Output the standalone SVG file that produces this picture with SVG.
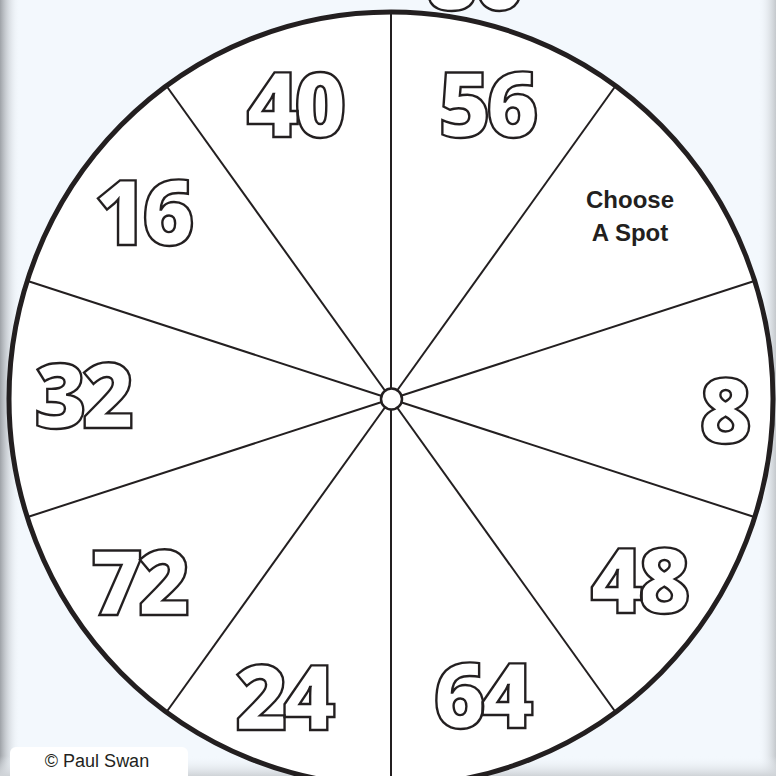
<svg xmlns="http://www.w3.org/2000/svg" width="776" height="776" viewBox="0 0 776 776">
<defs>
<linearGradient id="lg" x1="0" y1="0" x2="1" y2="0">
<stop offset="0" stop-color="#9ea2a7"/><stop offset="1" stop-color="#f3f8fd" stop-opacity="0"/>
</linearGradient>
<linearGradient id="rg" x1="1" y1="0" x2="0" y2="0">
<stop offset="0" stop-color="#c4c8cc"/><stop offset="1" stop-color="#f3f8fd" stop-opacity="0"/>
</linearGradient>
<linearGradient id="bg" x1="0" y1="1" x2="0" y2="0">
<stop offset="0" stop-color="#cfd3d7"/><stop offset="1" stop-color="#f3f8fd" stop-opacity="0"/>
</linearGradient>
<style>
.num{font-family:"Open Sans","Lato",sans-serif;font-weight:800;font-size:90px;fill:#fff;stroke:#231f20;stroke-width:2.4;text-anchor:middle;letter-spacing:-5px}
.spoke{stroke:#231f20;stroke-width:2;fill:none}
.lbl{font-family:"Liberation Sans",Arial,sans-serif;font-weight:700;font-size:24px;fill:#231f20;text-anchor:middle}
</style>
</defs>
<rect width="776" height="776" fill="#f3f8fd"/>
<rect x="0" y="0" width="20" height="776" fill="url(#lg)"/>
<rect x="758" y="0" width="18" height="776" fill="url(#rg)"/>
<rect x="0" y="756" width="776" height="20" fill="url(#bg)"/>
<g id="top-partial"><text class="num" x="473" y="10">80</text></g>
<g id="wheel">
<ellipse cx="391" cy="399" rx="382" ry="387" fill="#fff" stroke="#231f20" stroke-width="5"/>
</g>
<g id="connectors">
<line class="spoke" x1="391" y1="399" x2="391" y2="12"/>
<line class="spoke" x1="391" y1="399" x2="391" y2="786"/>
<line class="spoke" x1="391" y1="399" x2="615.5" y2="86"/>
<line class="spoke" x1="391" y1="399" x2="166.5" y2="86"/>
<line class="spoke" x1="391" y1="399" x2="615.5" y2="712"/>
<line class="spoke" x1="391" y1="399" x2="166.5" y2="712"/>
<line class="spoke" x1="391" y1="399" x2="754.3" y2="281"/>
<line class="spoke" x1="391" y1="399" x2="27.7" y2="281"/>
<line class="spoke" x1="391" y1="399" x2="754.3" y2="517"/>
<line class="spoke" x1="391" y1="399" x2="27.7" y2="517"/>
</g>
<g id="hub"><circle cx="391.5" cy="399" r="10.5" fill="#fff" stroke="#231f20" stroke-width="2.5"/></g>
<g id="n40"><text class="num" x="294" y="137">40</text></g>
<g id="n56"><text class="num" x="486" y="137">56</text></g>
<g id="n16"><text class="num" x="142" y="245">16</text></g>
<g id="choose"><text class="lbl" x="630" y="208">Choose</text><text class="lbl" x="630" y="241">A Spot</text></g>
<g id="n32"><text class="num" x="82" y="428">32</text></g>
<g id="n8"><text class="num" x="723" y="443">8</text></g>
<g id="n72"><text class="num" x="138" y="615">72</text></g>
<g id="n48"><text class="num" x="638" y="613">48</text></g>
<g id="n24"><text class="num" x="283" y="730">24</text></g>
<g id="n64"><text class="num" x="481" y="728">64</text></g>
<g id="copyright">
<rect x="10" y="747" width="178" height="40" rx="6" fill="#fff"/>
<text x="97" y="767" font-family="'Liberation Sans',Arial,sans-serif" font-size="18" fill="#231f20" text-anchor="middle">© Paul Swan</text>
</g>
</svg>
